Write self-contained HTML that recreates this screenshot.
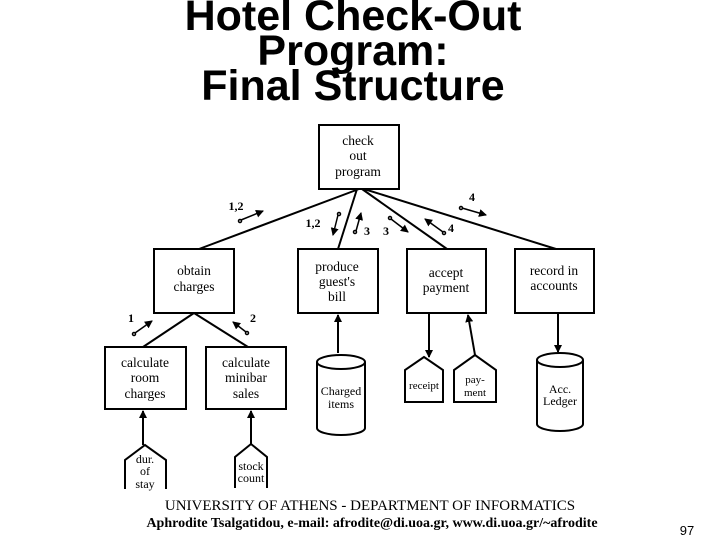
<!DOCTYPE html>
<html><head><style>
body{margin:0;width:720px;height:540px;background:#fff;overflow:hidden;position:relative}
.t{position:absolute;width:720px;text-align:center;font-family:"Liberation Sans",sans-serif;font-weight:bold;font-size:43px;line-height:35px;top:-1px;color:#000;left:-7px}
</style></head><body>
<div class="t">Hotel Check-Out<br>Program:<br>Final Structure</div>
<svg width="720" height="540" style="position:absolute;left:0;top:0" font-family="Liberation Serif,serif" font-size="13.5" text-anchor="middle">
<defs><marker id="a" markerWidth="8" markerHeight="8" refX="7" refY="4" orient="auto" markerUnits="userSpaceOnUse"><path d="M0,0L8,4L0,8z"/></marker></defs>
<g fill="none" stroke="#000" stroke-width="2">
<rect x="319" y="125" width="80" height="64"/>
<rect x="154" y="249" width="80" height="64"/>
<rect x="298" y="249" width="80" height="64"/>
<rect x="407" y="249" width="79" height="64"/>
<rect x="515" y="249" width="79" height="64"/>
<rect x="105" y="347" width="81" height="62"/>
<rect x="206" y="347" width="80" height="62"/>
<path d="M359,189L199,249M357,189L338,249M362,189L447,249M364,189L556,249"/>
<path d="M194,313L143,347M194,313L248,347"/>
<path d="M125,489V460L145,445L166,460V489"/>
<path d="M235,488V457L251,444L267,457V488"/>
<path d="M405,402V370L424,357L443,370V402Z"/>
<path d="M454,402V370L475,355L496,370V402Z"/>
<path d="M317,362V428A24,7 0 0 0 365,428V362A24,7 0 0 0 317,362A24,7 0 0 0 365,362"/>
<path d="M537,360V424A23,7 0 0 0 583,424V360A23,7 0 0 0 537,360A23,7 0 0 0 583,360"/>
<path d="M143,445V411" marker-end="url(#a)"/>
<path d="M251,444V411" marker-end="url(#a)"/>
<path d="M338,353V315" marker-end="url(#a)"/>
<path d="M429,313V357" marker-end="url(#a)"/>
<path d="M475,355L468,315" marker-end="url(#a)"/>
<path d="M558,313V352" marker-end="url(#a)"/>
</g>
<g fill="none" stroke="#000" stroke-width="1.5">
<path d="M241,220L263,211" marker-end="url(#a)"/><circle cx="240" cy="221" r="1.5"/>
<path d="M338,215L333,235" marker-end="url(#a)"/><circle cx="339" cy="214" r="1.5"/>
<path d="M356,231L361,213" marker-end="url(#a)"/><circle cx="355" cy="232" r="1.5"/>
<path d="M391,219L408,232" marker-end="url(#a)"/><circle cx="390" cy="218" r="1.5"/>
<path d="M443,232L425,219" marker-end="url(#a)"/><circle cx="444" cy="233" r="1.5"/>
<path d="M462,208L486,215" marker-end="url(#a)"/><circle cx="461" cy="208" r="1.5"/>
<path d="M135,333L152,321" marker-end="url(#a)"/><circle cx="134" cy="334" r="1.5"/>
<path d="M246,332L233,322" marker-end="url(#a)"/><circle cx="247" cy="333" r="1.5"/>
</g>
<g font-weight="bold" font-size="12">
<text x="236" y="210">1,2</text><text x="313" y="227">1,2</text><text x="367" y="235">3</text>
<text x="386" y="235">3</text><text x="451" y="232">4</text><text x="472" y="201">4</text>
<text x="131" y="322">1</text><text x="253" y="322">2</text>
</g>
<text x="358" y="145">check</text><text x="358" y="160">out</text><text x="358" y="176">program</text>
<text x="194" y="275">obtain</text><text x="194" y="291">charges</text>
<text x="337" y="271">produce</text><text x="337" y="286">guest's</text><text x="337" y="301">bill</text>
<text x="446" y="277">accept</text><text x="446" y="292">payment</text>
<text x="554" y="275">record in</text><text x="554" y="290">accounts</text>
<text x="145" y="367">calculate</text><text x="145" y="382">room</text><text x="145" y="398">charges</text>
<text x="246" y="367">calculate</text><text x="246" y="382">minibar</text><text x="246" y="398">sales</text>
<text x="145" y="463" font-size="12">dur.</text><text x="145" y="475" font-size="12">of</text><text x="145" y="488" font-size="12">stay</text>
<text x="251" y="470" font-size="12">stock</text><text x="251" y="482" font-size="12">count</text>
<text x="341" y="395" font-size="12">Charged</text><text x="341" y="408" font-size="12">items</text>
<text x="424" y="389" font-size="11">receipt</text>
<text x="475" y="383" font-size="11">pay-</text><text x="475" y="396" font-size="11">ment</text>
<text x="560" y="393" font-size="12">Acc.</text><text x="560" y="405" font-size="12">Ledger</text>
<text x="370" y="510" font-size="15">UNIVERSITY OF ATHENS - DEPARTMENT OF INFORMATICS</text>
<text x="372" y="527" font-size="14" font-weight="bold">Aphrodite Tsalgatidou, e-mail: afrodite@di.uoa.gr, www.di.uoa.gr/~afrodite</text>
<text x="687" y="535" font-family="Liberation Sans,sans-serif" font-size="13">97</text>
</svg>
</body></html>
